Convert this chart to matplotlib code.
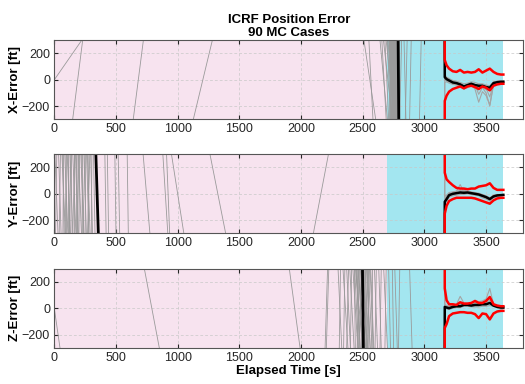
import matplotlib
matplotlib.use("Agg")
import matplotlib.pyplot as plt

plt.rcParams["font.family"] = ["Liberation Sans", "DejaVu Sans"]

# Phase boundaries [s]
phase_edges = [0, 2700, 3640]

# Wrapped MC traces before convergence: time where each crosses +300 / -300 ft
x_top = [222, 230, 722, 1281, 2510, 2550, 2640, 2655, 2668, 2680, 2690, 2700, 2705, 2712, 2718,
         2722, 2728, 2733, 2738, 2742, 2747, 2752, 2756, 2760, 2765, 2770, 2774, 2778, 2782,
         2800, 2815, 2835, 2860, 2893, 2974,
         2716, 2720, 2724, 2727, 2731, 2735, 2740, 2744, 2749, 2754, 2758, 2763, 2768, 2772,
         2776, 2780, 2784]
x_bot = [-222, 149, 640, 1127, 2605, 2583, 2700, 2690, 2740, 2710, 2760, 2725, 2750, 2770, 2735,
         2745, 2780, 2750, 2765, 2772, 2758, 2768, 2785, 2775, 2780, 2760, 2786, 2790, 2770,
         2790, 2800, 2850, 2845, 2880, 2960,
         2730, 2748, 2718, 2762, 2738, 2776, 2722, 2752, 2784, 2734, 2770, 2744, 2788, 2756,
         2728, 2766, 2742]
x_black = [2787, 2792]

y_top = [5, 20, 35, 50, 62, 75, 85, 95, 105, 118, 128, 140, 150, 160, 172, 185, 195, 205, 215,
         228, 240, 255, 268, 280, 295, 305, 318, 410, 430, 491, 518, 591, 720, 880, 910, 950,
         1262, 2222,
         68, 98, 112, 135, 165, 178, 200, 222, 248, 262, 288]
y_bot = [30, 10, 55, 40, 90, 70, 110, 100, 130, 115, 150, 135, 175, 160, 190, 180, 220, 200, 240,
         225, 260, 250, 290, 275, 310, 300, 330, 420, 440, 500, 530, 600, 775, 920, 935, 1050,
         1389, 2100,
         80, 88, 125, 122, 150, 195, 185, 235, 232, 280, 270]
y_black = [337, 357]

z_top = [-46, 730, 1905, 2215, 2225, 2300, 2320, 2340, 2355, 2370, 2385, 2395, 2410, 2420, 2432,
         2445, 2455, 2465, 2475, 2485, 2495, 2505, 2520, 2535, 2550, 2565, 2580, 2595, 2610,
         2630, 2650, 2670, 2690, 2710, 2740, 2760, 2800, 2880,
         2435, 2442, 2450, 2460, 2470, 2480, 2490, 2512, 2525, 2530, 2540, 2545, 2555, 2560]
z_bot = [46, 851, 1992, 2195, 2205, 2330, 2310, 2380, 2345, 2400, 2370, 2430, 2400, 2460, 2440,
         2480, 2470, 2500, 2490, 2520, 2510, 2530, 2540, 2560, 2545, 2590, 2575, 2620, 2600,
         2650, 2640, 2700, 2680, 2725, 2750, 2780, 2790, 2900,
         2465, 2500, 2478, 2525, 2455, 2540, 2470, 2535, 2490, 2560, 2515, 2575, 2530, 2585]
z_black = [2498, 2505]

# Converged part
t_ss = [3160, 3165, 3180, 3200, 3230, 3260, 3290, 3320, 3350, 3380, 3410, 3440, 3470, 3500,
        3530, 3560, 3590, 3620, 3640]

x_up = [3000, 150, 110, 85, 65, 60, 75, 55, 60, 55, 60, 80, 55, 70, 85, 60, 45, 40, 40]
x_lo = [-3000, -160, -120, -90, -70, -60, -50, -65, -50, -45, -55, -70, -50, -60, -80, -45, -35, -30, -30]
x_mean = [3000, 20, 5, -5, -20, -25, -35, -50, -40, -30, -40, -45, -45, -55, -60, -25, -18, -15, -15]
x_mc = [
    [2000, 40, 20, 10, -5, -10, -20, -30, -25, -15, -20, -30, -30, -40, -45, -15, -10, -8, -8],
    [-2000, -20, -15, -25, -35, -40, -50, -70, -60, -45, -60, -70, -60, -75, -80, -35, -25, -20, -20],
    [1500, 10, 0, -10, -25, -30, -45, -55, -45, -40, -70, -170, -90, -120, -190, -40, -20, -15, -15],
    [-1500, 30, 10, 0, -15, -20, -30, -45, -35, -25, -35, -110, -60, -100, -200, -30, -15, -10, -10],
    [2500, 0, -10, -15, -30, -35, -40, -60, -50, -40, -50, -60, -50, -65, -130, -30, -20, -18, -18],
]

y_up = [3000, 160, 110, 90, 65, 45, 40, 40, 35, 40, 40, 55, 60, 65, 80, 45, 30, 30, 30]
y_lo = [-3000, -150, -90, -55, -40, -30, -30, -30, -30, -30, -35, -45, -55, -65, -75, -50, -35, -30, -30]
y_mean = [-3000, -60, -40, -10, 0, 5, 10, 8, 10, 5, 0, -5, -15, -25, -40, -20, -12, -10, -8]
y_mc = [
    [2000, -20, -10, 10, 15, 20, 25, 20, 20, 15, 10, 5, -5, -15, -30, -10, -5, -5, -5],
    [-2000, -80, -60, -25, -15, -10, -5, -5, 0, -5, -10, -15, -30, -40, -55, -30, -20, -15, -12],
    [1500, -40, -20, 0, 10, 20, 70, 15, 15, 10, 5, 0, -10, -20, -35, -15, -10, -8, -6],
    [-1500, -50, -30, -5, 5, 10, 15, 30, 10, 5, -5, -10, -20, -30, -50, -25, -15, -12, -10],
]

z_up = [3000, 150, 60, 30, 30, 25, 45, 35, 35, 40, 55, 40, 40, 55, 85, 30, 20, 15, 15]
z_lo = [-3000, -150, -120, -60, -40, -35, -30, -30, -35, -35, -45, -75, -40, -45, -85, -40, -25, -20, -20]
z_mean = [-3000, 10, 5, 0, 10, 15, 15, 25, 25, 20, 25, 25, 30, 30, 40, 20, 10, 5, 5]
z_mc = [
    [2000, 20, 15, 10, 20, 25, 30, 35, 35, 30, 40, 45, 45, 50, 90, 25, 15, 10, 10],
    [-2000, 0, -5, -10, 0, 5, 5, 15, 15, 10, 10, 10, 15, 15, 20, 15, 5, 0, 0],
    [1500, 30, 20, 15, 25, 30, 90, 40, 40, 35, 60, 50, 55, 70, 150, 30, 15, 10, 10],
    [-1500, 5, 0, 5, 15, 20, 20, 30, 30, 25, 30, 30, 35, 40, 60, 20, 10, 5, 5],
]

panels = [
    ("X-Error [ft]", x_top, x_bot, x_black, x_mc, x_mean, x_up, x_lo),
    ("Y-Error [ft]", y_top, y_bot, y_black, y_mc, y_mean, y_up, y_lo),
    ("Z-Error [ft]", z_top, z_bot, z_black, z_mc, z_mean, z_up, z_lo),
]

fig = plt.figure(figsize=(5.25, 3.84), dpi=100)
bottoms = [0.6893, 0.3924, 0.0945]
axes = []
for (label, tops, bots, blk, mcs, mean, up, lo), b in zip(panels, bottoms):
    ax = fig.add_axes([0.1034, b, 0.893, 0.2057])
    ax.axvspan(phase_edges[0], phase_edges[1], color="#f7e3ef", lw=0, zorder=0.1)
    ax.axvspan(phase_edges[1], phase_edges[2], color="#a3e6f0", lw=0, zorder=0.1)

    for xt, xb in zip(tops, bots):
        ax.plot([xb, xt], [-300, 300], color="#9a9a9a", lw=0.6)
    ax.plot([blk[1], blk[0]], [-300, 300], color="black", lw=2)

    for mc in mcs:
        ax.plot(t_ss, mc, color="#a5a5a5", lw=0.8)
    ax.plot(t_ss, mean, color="black", lw=1.8)
    ax.plot(t_ss, up, color="red", lw=1.8)
    ax.plot(t_ss, lo, color="red", lw=1.8)

    ax.set_xlim(0, 3800)
    ax.set_ylim(-300, 300)
    ax.set_xticks(range(0, 3501, 500))
    ax.set_yticks([-200, 0, 200])
    ax.set_axisbelow(True)
    ax.grid(True, color="#c8c8c8", lw=0.5, linestyle=(0, (4, 3)))
    ax.tick_params(direction="in", length=3, top=True, right=True, labelsize=9,
                   colors="#262626", pad=3)
    for s in ax.spines.values():
        s.set_color("#555555")
        s.set_linewidth(0.8)
    ax.set_ylabel(label, fontweight="bold", fontsize=9.5)
    ax.yaxis.set_label_coords(-0.072, 0.5)
    axes.append(ax)

axes[0].set_title("ICRF Position Error\n90 MC Cases", fontweight="bold", fontsize=9.5,
                  pad=3, linespacing=1.1)
axes[2].set_xlabel("Elapsed Time [s]", fontweight="bold", fontsize=9.5, labelpad=1)

fig.savefig("out.png", dpi=100)
